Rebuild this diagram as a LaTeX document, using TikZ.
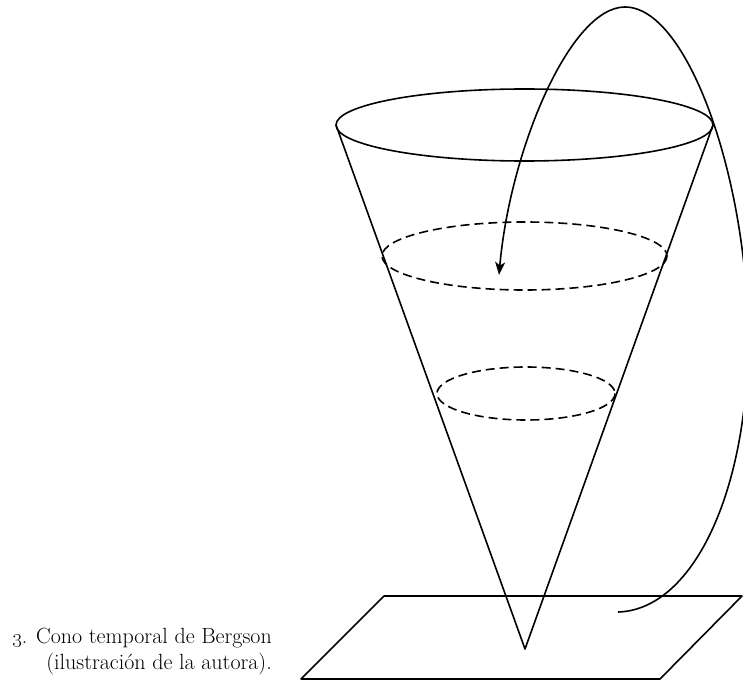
\documentclass[tikz,border=0pt]{standalone}
\usepackage{tikz}
\usetikzlibrary{arrows.meta,positioning}
\tikzset{
  conoline/.style={line width=1.6pt, line join=round},
  nivel/.style={line width=1.6pt, dash pattern=on 9pt off 5pt},
  flecha/.style={line width=1.6pt, -{Stealth[length=13pt,width=10pt,inset=3.5pt]}},
  pie/.style={inner sep=0pt, align=right, font=\fontsize{22}{26}\selectfont},
}
\begin{document}
\begin{tikzpicture}[x=1pt, y=-1pt]
  \useasboundingbox (0,0) rectangle (743,687);
  % cono
  \coordinate (punta) at (525,649);
  \coordinate (izq) at (336,125);
  \coordinate (der) at (713,125);
  \draw[conoline] (524.5,125) ellipse (188.5 and 36);
  \draw[conoline] (izq) -- (punta) -- (der);
  % secciones
  \draw[nivel] (524.5,256) ellipse (142.5 and 34);
  \draw[nivel] (526,393.5) ellipse (89 and 26.5);
  % plano
  \draw[conoline] (384,596) -- (742,596) -- (660,679) -- (301,679) -- cycle;
  % recorrido
  \coordinate (inicio) at (618,612);
  \coordinate (llegada) at (499,275);
  \draw[flecha] (inicio) .. controls (690,610) and (745,500) .. (748,350)
    .. controls (751,190) and (690,7) .. (625,7)
    .. controls (570,7) and (510,150) .. (llegada);
  % pie
  \node[pie, anchor=north east] (leyenda) at (272,628)
    {\oldstylenums{3}. Cono temporal de Bergson\\(ilustración de la autora).};
\end{tikzpicture}
\end{document}
